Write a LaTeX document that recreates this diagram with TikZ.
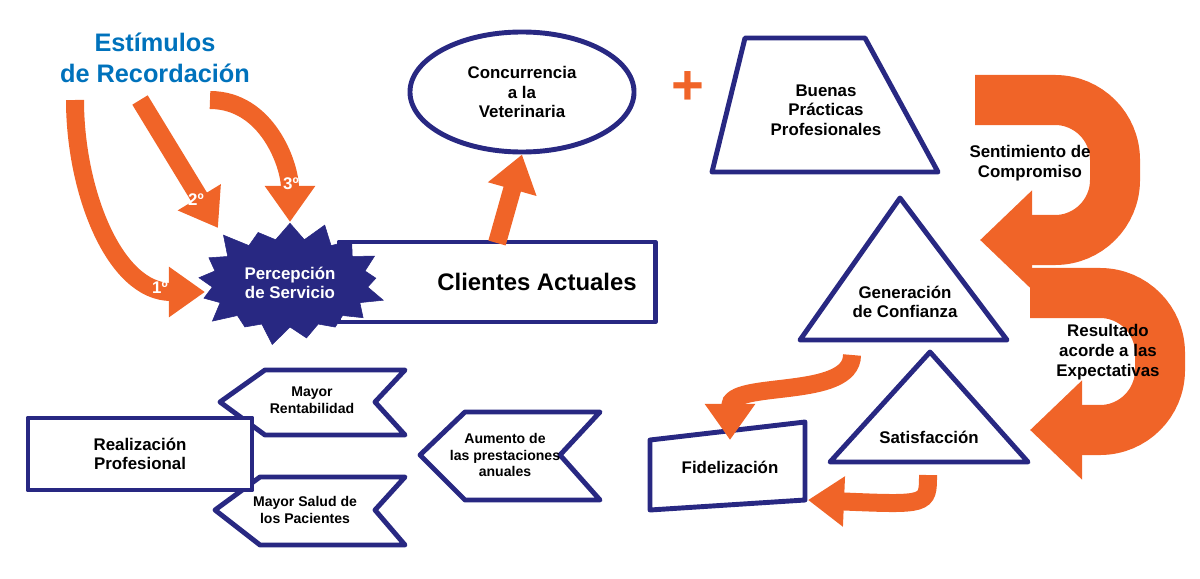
\documentclass[tikz,border=0pt]{standalone}
\usepackage{fontspec}
\setmainfont{Liberation Sans}
\usetikzlibrary{shapes.geometric,shapes.symbols,arrows.meta}
\definecolor{navy}{RGB}{40,40,130}
\definecolor{naranja}{RGB}{240,100,40}
\definecolor{azul}{RGB}{0,114,188}
\begin{document}
\begin{tikzpicture}[x=0.025cm,y=-0.025cm,font=\bfseries]
    \tikzstyle{caja} = [draw=navy, line width=3.5pt, fill=white, line join=round]
    \tikzstyle{flecha} = [draw=naranja, line width=0.45cm, -{Triangle[width=1.2cm,length=0.9cm]}]
    \tikzstyle{flechota} = [draw=naranja, line width=1.25cm, rounded corners=1.5cm, -{Triangle[width=2.4cm,length=1.3cm]}]
    \tikzstyle{txt} = [align=center, font=\bfseries\large]
    \tikzstyle{num} = [text=white, font=\bfseries\large]
    \useasboundingbox (0,0) rectangle (1200,578);
    % estimulos
    \node (titulo) [align=center, text=azul, font=\bfseries\fontsize{18}{22}\selectfont] at (155,58) {Estímulos\\de Recordación};
    \coordinate (e1) at (75,100);
    \coordinate (e2) at (140,100);
    \coordinate (e3) at (210,100);
    \node (clientes) [caja, minimum width=7.9cm, minimum height=2cm, font=\bfseries\fontsize{17}{20}\selectfont, text depth=0pt] at (497,282) {\hspace{2cm}Clientes Actuales};
    \node (percep) [starburst, draw=navy, fill=navy, minimum width=5cm, minimum height=3.3cm, starburst points=17, starburst point height=0.55cm, text=white, align=center, font=\bfseries\large] at (290,283) {Percepción\\de Servicio};
    \draw[flecha] (e1) to[out=-90,in=180] (205,292);
    \draw[flecha] (e2) -- (218,228);
    \draw[flecha] (e3) to[out=0,in=90] (290,222);
    \node (n1) [num] at (160,288) {1º};
    \node (n2) [num] at (196,200) {2º};
    \node (n3) [num] at (291,184) {3º};
    % concurrencia
    \node (concu) [ellipse, caja, minimum width=5.6cm, minimum height=3cm, txt] at (522,92) {Concurrencia\\a la\\Veterinaria};
    \draw[flecha] (497,243) -- (concu.south);
    \node (mas) [text=naranja, font=\bfseries\fontsize{40}{40}\selectfont] at (688,88) {+};
    % buenas practicas
    \draw[caja] (745,38) -- (865,38) -- (938,172) -- (712,172) -- cycle;
    \node (buenas) [txt] at (826,110) {Buenas\\Prácticas\\Profesionales};
    % flechas grandes
    \draw[flechota] (975,100) -- (1115,100) -- (1115,240) -- (980,240);
    \node (senti) [txt] at (1030,163) {Sentimiento de\\Compromiso};
    \draw[flechota] (1030,293) -- (1160,293) -- (1160,430) -- (1030,430);
    \node (resul) [txt] at (1108,352) {Resultado\\acorde a las\\Expectativas};
    % triangulos
    \draw[caja] (900,198) -- (1007,340) -- (800,340) -- cycle;
    \node (confi) [txt] at (905,302) {Generación\\de Confianza};
    \draw[caja] (930,352) -- (1028,462) -- (830,462) -- cycle;
    \node (satis) [txt] at (929,437) {Satisfacción};
    % fidelizacion
    \draw[caja] (650,440) -- (805,422) -- (805,500) -- (650,510) -- cycle;
    \node (fide) [txt] at (730,467) {Fidelización};
    \draw[flecha] (852,355) .. controls (852,400) and (730,380) .. (730,440);
    \draw[flecha] (928,475) .. controls (928,505) .. (808,500);
    % chevrones
    \draw[caja] (420,455) -- (465,412) -- (600,412) -- (560,455) -- (600,500) -- (465,500) -- cycle;
    \node (aumento) [align=center, font=\bfseries] at (505,455) {Aumento de\\las prestaciones\\anuales};
    \draw[caja] (220,402) -- (265,370) -- (405,370) -- (375,402) -- (405,435) -- (265,435) -- cycle;
    \node (renta) [align=center, font=\bfseries] at (312,400) {Mayor\\Rentabilidad};
    \draw[caja] (215,510) -- (260,477) -- (405,477) -- (375,510) -- (405,545) -- (260,545) -- cycle;
    \node (salud) [align=center, font=\bfseries] at (305,510) {Mayor Salud de\\los Pacientes};
    \node (reali) [caja, minimum width=5.6cm, minimum height=1.8cm, txt] at (140,454) {Realización\\Profesional};
\end{tikzpicture}
\end{document}
